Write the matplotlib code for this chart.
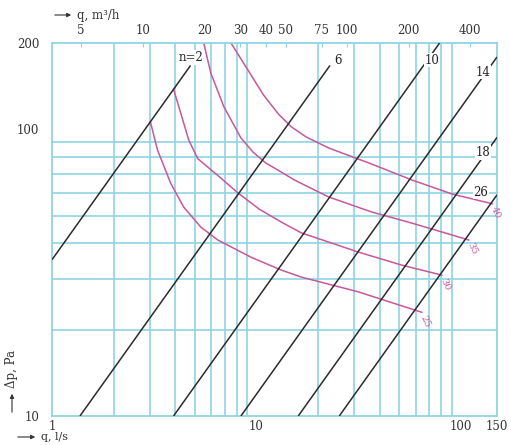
import matplotlib
matplotlib.use("Agg")
import matplotlib.pyplot as plt
from matplotlib.patches import FancyArrowPatch
from matplotlib.ticker import NullLocator

# ---- axis ticks -------------------------------------------------------
q_ticks_ls = [1, 10, 100, 150]                                # l/s, bottom
q_ticks_m3h = [5, 10, 20, 30, 40, 50, 75, 100, 200, 400]      # m3/h, top
dp_ticks = [10, 100, 200]                                     # Pa, left
q_grid = [2, 3, 4, 5, 6, 7, 8, 9, 20, 30, 40, 50, 60, 70, 80, 90]
dp_grid = [20, 30, 40, 50, 60, 70, 80, 90]

# ---- resistance lines (dp proportional to q) --------------------------
n_values = [2, 6, 10, 14, 18, 26]
q_at_10pa = [0.285, 1.37, 3.93, 8.39, 16.0, 25.4]  # l/s giving 10 Pa
dp_line_end = [167, 167, 200, 200, 200, 200]       # Pa, upper end

# ---- characteristic curves --------------------------------------------
curve_labels = ["40", "35", "30", "25"]
curve_q = [
    [7.5, 9.08, 10.8, 12.8, 14.8, 17.5, 22.5, 36.5, 57.4, 90.3, 142],
    [5.52, 5.98, 6.92, 8.39, 9.61, 11.1, 13.2, 15.3, 22.5, 36.5, 57.4, 90.3, 109],
    [3.93, 4.26, 4.66, 5.16, 6.47, 8.11, 10.3, 13.2, 16.6, 31.5, 51.3, 80.6],
    [3.03, 3.28, 3.80, 4.40, 5.34, 6.47, 9.40, 13.2, 16.6, 31.5, 64.3],
]
curve_dp = [
    [200, 161, 132, 113, 102, 94.0, 86.1, 75.7, 66.6, 59.5, 55.0],
    [200, 157, 120, 93.3, 83.3, 76.3, 71.0, 66.6, 58.1, 51.5, 47.1, 42.8, 41.1],
    [138, 114, 91.8, 79.0, 69.0, 60.0, 52.7, 47.5, 43.5, 37.3, 33.6, 31.0],
    [106, 84.7, 65.0, 53.6, 45.6, 41.1, 35.8, 32.3, 30.5, 27.1, 23.0],
]

GRID = "#8fd4e4"
LINE = "#2b2b2b"
MAG = "#c8579c"
TXT = "#333333"

plt.rcParams["font.family"] = ["DejaVu Serif"]

fig = plt.figure(figsize=(5.11, 4.45), dpi=100)
ax = fig.add_axes([52 / 511, 29 / 445, 445 / 511, 373 / 445])
ax.set_xscale("log")
ax.set_yscale("log")
ax.set_xlim(1, 150)
ax.set_ylim(10, 200)

# grid
for q in q_grid:
    ax.axvline(q, color=GRID, lw=1.2, zorder=1)
for p in dp_grid:
    ax.axhline(p, color=GRID, lw=1.2, zorder=1)
for s in ax.spines.values():
    s.set_color(GRID)
    s.set_linewidth(1.3)

ax.set_xticks(q_ticks_ls)
ax.set_xticklabels([str(v) for v in q_ticks_ls])
ax.xaxis.set_minor_locator(NullLocator())
ax.set_yticks(dp_ticks)
ax.set_yticklabels([str(v) for v in dp_ticks])
ax.yaxis.set_minor_locator(NullLocator())
ax.tick_params(axis="both", length=0, labelsize=8.5, colors=TXT)
ax.tick_params(axis="x", pad=3)
ax.tick_params(axis="y", pad=9)

# top axis in m3/h
top = ax.secondary_xaxis("top", functions=(lambda x: x * 3.6, lambda x: x / 3.6))
top.set_xticks(q_ticks_m3h)
top.set_xticklabels([str(v) for v in q_ticks_m3h])
top.xaxis.set_minor_locator(NullLocator())
top.tick_params(axis="x", direction="in", length=3, color=GRID,
                labelsize=8.5, labelcolor=TXT, pad=4)
top.spines["top"].set_visible(False)

# resistance lines
label_place = {
    2: (167, 0, 8),
    6: (167, 8, 5),
    10: (174, 5, 0),
    14: (158, -3, 0),
    18: (83, -3, 0),
    26: (60.4, -18, 0),
}
for n, q10, pend in zip(n_values, q_at_10pa, dp_line_end):
    k = 10.0 / q10
    q0 = max(1.0, q10)
    q1 = min(150.0, pend / k)
    ax.plot([q0, q1], [k * q0, k * q1], color=LINE, lw=1.1, zorder=3,
            solid_capstyle="butt")
    pa, dx, dy = label_place[n]
    txt = "n=2" if n == 2 else str(n)
    ax.annotate(txt, (pa / k, pa), xytext=(dx, dy), textcoords="offset pixels",
                ha="center", va="center", fontsize=8.5, color="#222222",
                zorder=5, annotation_clip=False,
                bbox=dict(boxstyle="square,pad=0.05", fc="white", ec="none"))

# characteristic curves
for lab, qs, ps in zip(curve_labels, curve_q, curve_dp):
    ax.plot(qs, ps, color=MAG, lw=1.1, zorder=2)
    ax.annotate(lab, (qs[-1], ps[-1]), xytext=(3, -9),
                textcoords="offset pixels", ha="center", va="center",
                rotation=-65, fontsize=7, color=MAG, zorder=5,
                annotation_clip=False)

# axis captions with arrows
arrow = dict(arrowstyle="-|>", color=TXT, lw=0.8, mutation_scale=6)
fig.add_artist(FancyArrowPatch((52, 430), (74, 430), transform=None, **arrow))
fig.text(77 / 511, 430 / 445, "q, m³/h", fontsize=8.5, va="center", color=TXT)
fig.add_artist(FancyArrowPatch((15, 8), (38, 8), transform=None, **arrow))
fig.text(41 / 511, 8 / 445, "q, l/s", fontsize=8, va="center", color=TXT)
fig.add_artist(FancyArrowPatch((12, 30), (12, 54), transform=None, **arrow))
fig.text(12 / 511, 57 / 445, "Δp, Pa", fontsize=8.5, ha="center",
         va="bottom", rotation=90, color=TXT)

fig.savefig("out.png", dpi=100)
